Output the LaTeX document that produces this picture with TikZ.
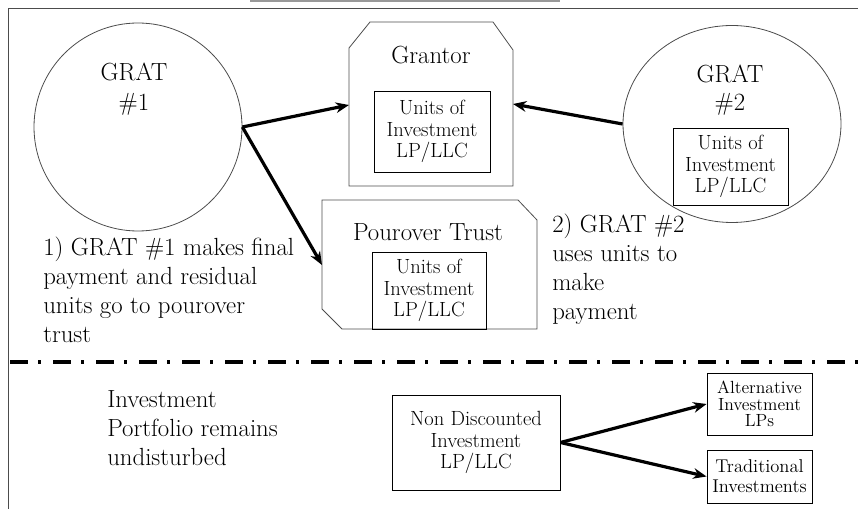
\documentclass[tikz,border=0pt]{standalone}
\usepackage{fontspec}
\usetikzlibrary{arrows.meta,shapes.geometric}

\begin{document}
\begin{tikzpicture}[x=0.75pt,y=0.75pt,yscale=-1,xscale=1,
  thinline/.style={line width=0.6pt,black!70},
  flow/.style={line width=2.4pt,-{Stealth[length=10pt,width=8pt]}},
  bigtxt/.style={font=\fontsize{18.6}{21.75}\selectfont,inner sep=0pt},
  unitbox/.style={draw,line width=0.7pt,align=center,inner sep=0pt,font=\fontsize{15.4}{16.1}\selectfont}]
\useasboundingbox (0,0) rectangle (858,509);

%Straight Lines [frame]
\draw[thinline] (8,509) -- (8,8) -- (858,8) ;
\draw[black!40,line width=1.2pt] (250,1) -- (560,1) ;

%Shape: Circle [GRAT 1]
\node[thinline,draw,circle,minimum size=156pt] (grat1) at (138,127) {};
%Shape: Ellipse [GRAT 2]
\node[thinline,draw,ellipse,minimum width=163.5pt,minimum height=147.75pt] (grat2) at (732,124) {};

%Shape: Grantor
\draw[thinline] (349,48) -- (370,22) -- (493,22) -- (513,50) -- (513,186) -- (349,186) -- cycle ;
\coordinate (grantorW) at (349,105);
\coordinate (grantorE) at (513,104);

%Shape: Pourover Trust
\draw[thinline] (322,200) -- (518,200) -- (537,220) -- (537,329) -- (342,329) -- (322,309) -- cycle ;
\coordinate (pourW) at (322,265);

% Text Node
\node[bigtxt,align=center,anchor=north,font=\fontsize{18.6}{22.5}\selectfont] (grat1lbl) at (134,63) {GRAT\\\#1};
% Text Node
\node[bigtxt,align=center,anchor=north,font=\fontsize{18.6}{21}\selectfont] (grat2lbl) at (730,65) {GRAT\\\#2};
% Text Node
\node[bigtxt,anchor=north] (grantorlbl) at (431,46) {Grantor};
% Text Node
\node[bigtxt,anchor=north] (pourlbl) at (428,223) {Pourover Trust};

% Boxes
\node[unitbox,minimum width=87pt,minimum height=60.75pt] (units1) at (432,131.5) {Units of\\Investment\\LP/LLC};
\node[unitbox,minimum width=86.25pt,minimum height=57.75pt] (units2) at (730.5,166.5) {Units of\\Investment\\LP/LLC};
\node[unitbox,minimum width=85.5pt,minimum height=57.75pt] (units3) at (429,290.5) {Units of\\Investment\\LP/LLC};
\node[unitbox,minimum width=126pt,minimum height=71.25pt] (nondisc) at (476,442.5) {Non Discounted\\Investment\\LP/LLC};
\node[unitbox,minimum width=78.75pt,minimum height=46.5pt,font=\fontsize{13.2}{12.5}\selectfont] (alt) at (759.5,404) {Alternative\\Investment\\LPs};
\node[unitbox,minimum width=78.75pt,minimum height=39.75pt,font=\fontsize{13.9}{15}\selectfont] (trad) at (759.5,476.5) {Traditional\\Investments};

% Text Node
\node[bigtxt,align=left,anchor=north west] (note1) at (43,236.5) {1) GRAT \#1 makes final\\payment and residual\\units go to pourover\\trust};
% Text Node
\node[bigtxt,align=left,anchor=north west] (note2) at (552,213.5) {2) GRAT \#2\\uses units to\\make\\payment};
% Text Node
\node[bigtxt,align=left,anchor=north west] (note3) at (107,390) {Investment\\Portfolio remains\\undisturbed};

%Straight Lines [dash dot divider]
\draw[line width=2.6pt,dash pattern=on 13.5pt off 7.5pt on 2.25pt off 9pt,dash phase=-1.5pt] (8,362) -- (858,362) ;

%Arrows
\draw[flow] (grat1.east) -- (grantorW) ;
\draw[flow] (grat1.east) -- (pourW) ;
\draw[flow] (grat2.west) -- (grantorE) ;
\draw[flow] (nondisc.east) -- (alt.west) ;
\draw[flow] (nondisc.east) -- (trad.west) ;

\end{tikzpicture}
\end{document}
